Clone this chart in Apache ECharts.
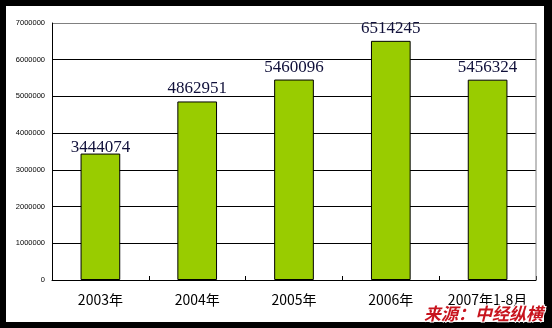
<!DOCTYPE html>
<html>
<head>
<meta charset="utf-8">
<script src="https://cdn.jsdelivr.net/npm/echarts@6/dist/echarts.min.js"></script>
<style>
html,body{margin:0;padding:0;background:#000;}
#c{width:552px;height:328px;}
</style>
</head>
<body>
<div id="c"></div>
<script>
const categories = ['2003年', '2004年', '2005年', '2006年', '2007年1-8月'];
const values = [3444074, 4862951, 5460096, 6514245, 5456324];
const yTicks = [0, 1000000, 2000000, 3000000, 4000000, 5000000, 6000000, 7000000];
const sourceText = '来源：中经纵横';

const chart = echarts.init(document.getElementById('c'), null, {renderer: 'canvas'});
const gridColors = yTicks.map((t, i) => i === yTicks.length - 1 ? '#808080' : '#000');

chart.setOption({
  backgroundColor: '#000',
  animation: false,
  graphic: [
    {type: 'rect', z: -10, silent: true, shape: {x: 6, y: 6, width: 538, height: 316}, style: {fill: '#fff'}},
    {type: 'line', z: 1, silent: true, shape: {x1: 536, y1: 23, x2: 536, y2: 280}, style: {stroke: '#808080', lineWidth: 1}},
    {type: 'text', z: 10, right: 8, bottom: 5, style: {text: sourceText, fill: '#c8141e', font: 'italic bold 17px "Noto Sans CJK SC"', stroke: '#fff', lineWidth: 2}}
  ],
  grid: {left: 52, top: 23, right: 16, bottom: 48},
  xAxis: {
    type: 'category',
    data: categories,
    boundaryGap: true,
    axisLine: {lineStyle: {color: '#000', width: 1}},
    axisTick: {show: true, inside: true, length: 4, alignWithLabel: false, lineStyle: {color: '#000'}},
    axisLabel: {interval: 0, color: '#000', fontSize: 14, fontFamily: '"Noto Sans CJK SC"', margin: 13}
  },
  yAxis: {
    type: 'value',
    min: 0, max: 7000000, interval: 1000000,
    axisLine: {show: true, lineStyle: {color: '#000'}},
    axisTick: {show: false},
    splitLine: {show: true, lineStyle: {color: gridColors, width: 1}},
    axisLabel: {color: '#000', fontSize: 7.5, fontFamily: 'Arial, "Liberation Sans"', margin: 7, formatter: v => String(v)}
  },
  series: [{
    type: 'bar',
    data: values.map((v, i) => i === 0 ? {value: v, label: {offset: [0, 6]}} : v),
    barWidth: '41%',
    itemStyle: {color: '#99cc00', borderColor: '#000', borderWidth: 1},
    label: {show: true, position: 'top', distance: 4, color: '#10103a', fontSize: 17, fontFamily: '"Liberation Serif", "Times New Roman", serif'}
  }]
});
</script>
</body>
</html>
